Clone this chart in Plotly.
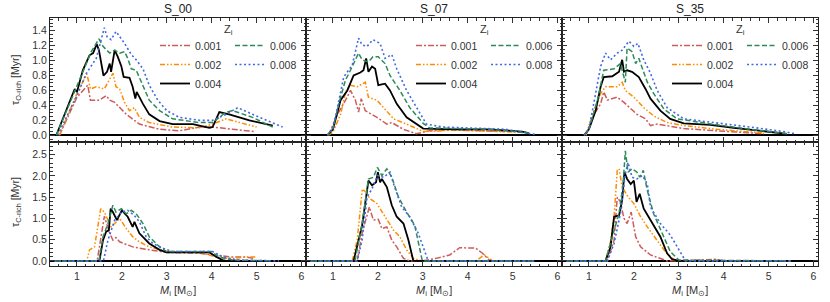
import plotly.graph_objects as go
from plotly.subplots import make_subplots

# ---------------- data ----------------
models = ["S_00", "S_07", "S_35"]
metallicities = ["0.001", "0.002", "0.004", "0.006", "0.008"]

# --- O-rich lifetimes (top row) ---
M_O_S00_001 = [0.61, 0.76, 1.0, 1.24, 1.30, 1.50, 1.65, 1.73, 1.84, 2.10, 2.39, 2.84, 3.28, 3.73, 4.02, 4.47, 4.95]
T_O_S00_001 = [0, 0.19, 0.51, 0.67, 0.47, 0.47, 0.53, 0.47, 0.44, 0.28, 0.15, 0.08, 0.06, 0.11, 0.11, 0.08, 0.05]
M_O_S00_002 = [0.61, 1.0, 1.22, 1.30, 1.43, 1.61, 1.80, 1.87, 1.95, 2.06, 2.17, 2.28, 2.39, 2.61, 3.13, 3.73, 4.02, 4.32, 5.0]
T_O_S00_002 = [0, 0.56, 0.82, 0.62, 0.65, 0.62, 0.83, 0.65, 0.62, 0.44, 0.33, 0.37, 0.24, 0.17, 0.11, 0.10, 0.15, 0.22, 0.11]
M_O_S00_004 = [0.54, 0.76, 0.95, 1.0, 1.13, 1.28, 1.36, 1.44, 1.49, 1.59, 1.67, 1.73, 1.76, 1.84, 1.91, 1.99, 2.04, 2.17, 2.24, 2.30, 2.33, 2.47, 2.61, 2.84, 3.13, 3.58, 3.95, 4.02, 4.17, 4.39, 4.84, 5.36]
T_O_S00_004 = [0, 0.33, 0.62, 0.58, 0.87, 1.07, 1.10, 1.22, 1.14, 0.80, 0.85, 0.96, 0.85, 1.14, 1.05, 0.92, 0.78, 0.77, 0.65, 0.49, 0.58, 0.42, 0.28, 0.19, 0.15, 0.15, 0.10, 0.11, 0.31, 0.28, 0.20, 0.13]
M_O_S00_006 = [0.54, 1.0, 1.21, 1.32, 1.49, 1.58, 1.73, 1.84, 1.95, 2.06, 2.13, 2.21, 2.32, 2.47, 2.61, 2.84, 3.13, 3.73, 4.02, 4.32, 4.47, 4.91, 5.36]
T_O_S00_006 = [0, 0.67, 0.98, 1.12, 1.29, 1.19, 1.10, 1.14, 1.10, 1.12, 1.03, 0.89, 0.87, 0.65, 0.47, 0.33, 0.22, 0.17, 0.17, 0.31, 0.33, 0.24, 0.11]
M_O_S00_008 = [0.57, 1.0, 1.21, 1.43, 1.50, 1.61, 1.67, 1.76, 1.87, 1.95, 2.06, 2.21, 2.32, 2.47, 2.61, 2.8, 3.0, 3.28, 3.73, 4.02, 4.32, 4.58, 4.91, 5.58]
T_O_S00_008 = [0, 0.53, 0.83, 1.03, 1.19, 1.44, 1.32, 1.28, 1.39, 1.32, 1.23, 1.08, 1.01, 0.89, 0.67, 0.47, 0.33, 0.24, 0.20, 0.20, 0.28, 0.37, 0.28, 0.11]

M_O_S07_001 = [0.9, 1.10, 1.28, 1.39, 1.50, 1.57, 1.63, 1.72, 1.98, 2.20, 2.31, 2.57, 2.86, 3.15, 3.74, 4.85]
T_O_S07_001 = [0, 0.28, 0.47, 0.60, 0.47, 0.31, 0.49, 0.33, 0.24, 0.15, 0.17, 0.08, 0.02, 0.06, 0.07, 0.05]
M_O_S07_002 = [0.89, 1.0, 1.17, 1.28, 1.39, 1.54, 1.72, 1.79, 1.98, 2.20, 2.35, 2.64, 3.01, 3.74, 4.48, 5.21]
T_O_S07_002 = [0, 0.04, 0.28, 0.58, 0.67, 0.65, 0.71, 0.51, 0.47, 0.33, 0.22, 0.15, 0.05, 0.07, 0.06, 0.04]
M_O_S07_004 = [0.875, 1.0, 1.17, 1.32, 1.46, 1.61, 1.68, 1.74, 1.79, 1.87, 1.94, 2.01, 2.16, 2.27, 2.42, 2.64, 3.01, 3.74, 4.48, 5.21, 5.36]
T_O_S07_004 = [0, 0.08, 0.47, 0.60, 0.80, 0.84, 0.87, 1.03, 0.85, 0.92, 0.89, 0.67, 0.69, 0.60, 0.42, 0.24, 0.09, 0.08, 0.08, 0.05, 0.03]
M_O_S07_006 = [0.875, 1.0, 1.17, 1.28, 1.39, 1.57, 1.65, 1.79, 1.89, 2.01, 2.16, 2.27, 2.49, 2.71, 3.01, 3.15, 3.74, 4.48, 5.36]
T_O_S07_006 = [0, 0.10, 0.51, 0.74, 0.87, 1.10, 1.01, 0.98, 1.05, 1.05, 0.96, 0.80, 0.60, 0.37, 0.16, 0.10, 0.09, 0.08, 0.03]
M_O_S07_008 = [0.875, 1.0, 1.24, 1.43, 1.57, 1.65, 1.76, 1.89, 2.05, 2.16, 2.31, 2.42, 2.64, 2.86, 3.08, 3.45, 4.11, 4.85, 5.51]
T_O_S07_008 = [0, 0.08, 0.78, 0.94, 1.30, 1.21, 1.19, 1.28, 1.23, 1.03, 1.08, 0.89, 0.60, 0.37, 0.15, 0.11, 0.10, 0.08, 0.01]

M_O_S35_001 = [0.93, 1.11, 1.26, 1.33, 1.41, 1.63, 1.78, 1.93, 2.07, 2.26, 2.37, 2.52, 3.11, 3.85, 4.89]
T_O_S35_001 = [0, 0.28, 0.42, 0.58, 0.47, 0.51, 0.44, 0.35, 0.28, 0.22, 0.13, 0.15, 0.09, 0.06, 0.02]
M_O_S35_002 = [0.93, 1.11, 1.26, 1.37, 1.63, 1.74, 1.81, 2.0, 2.22, 2.44, 2.74, 3.11, 3.85, 4.89]
T_O_S35_002 = [0, 0.33, 0.56, 0.65, 0.65, 0.71, 0.60, 0.51, 0.37, 0.26, 0.17, 0.13, 0.08, 0.03]
M_O_S35_004 = [0.89, 1.0, 1.15, 1.26, 1.33, 1.52, 1.67, 1.74, 1.78, 1.85, 1.96, 2.11, 2.26, 2.37, 2.59, 2.81, 3.11, 3.70, 4.22, 4.96, 5.41]
T_O_S35_004 = [0, 0.08, 0.33, 0.65, 0.78, 0.79, 0.85, 1.01, 0.85, 0.87, 0.85, 0.78, 0.62, 0.49, 0.33, 0.22, 0.16, 0.14, 0.10, 0.05, 0.02]
M_O_S35_006 = [0.89, 1.0, 1.19, 1.33, 1.56, 1.70, 1.81, 1.85, 1.96, 2.04, 2.11, 2.30, 2.44, 2.67, 2.96, 3.26, 3.85, 4.59, 5.41]
T_O_S35_006 = [0, 0.08, 0.47, 0.87, 0.89, 0.96, 0.71, 1.17, 1.12, 0.96, 1.03, 0.71, 0.56, 0.35, 0.22, 0.19, 0.14, 0.08, 0.02]
M_O_S35_008 = [0.89, 1.0, 1.26, 1.37, 1.48, 1.63, 1.74, 1.89, 2.0, 2.09, 2.22, 2.37, 2.52, 2.74, 3.11, 3.85, 4.59, 5.33, 5.59]
T_O_S35_008 = [0, 0.08, 0.92, 1.10, 1.01, 1.10, 1.14, 1.26, 1.19, 1.23, 1.01, 0.83, 0.60, 0.37, 0.22, 0.17, 0.11, 0.05, 0.02]

# --- C-rich lifetimes (bottom row) ---
M_C_S00_001 = [0.5, 1.45, 1.61, 1.73, 1.80, 1.87, 1.95, 2.24, 2.61, 3.0, 3.73, 4.02, 4.32, 4.47, 4.76, 4.95]
T_C_S00_001 = [0, 0, 1.05, 0.65, 0.49, 0.55, 0.45, 0.33, 0.26, 0.20, 0.18, 0.14, 0.10, 0.09, 0.09, 0.06]
M_C_S00_002 = [0.5, 1.22, 1.28, 1.39, 1.47, 1.53, 1.61, 1.76, 1.84, 1.95, 2.10, 2.24, 2.39, 2.61, 3.0, 3.73, 3.95, 4.17, 4.47, 4.76, 4.99]
T_C_S00_002 = [0, 0, 0.26, 0.33, 0.84, 1.23, 1.15, 0.80, 0.88, 1.0, 0.76, 0.57, 0.45, 0.33, 0.22, 0.19, 0.14, 0.06, 0.06, 0.09, 0.09]
M_C_S00_004 = [0.5, 1.50, 1.58, 1.65, 1.71, 1.75, 1.80, 1.89, 2.0, 2.13, 2.24, 2.28, 2.39, 2.61, 2.84, 3.0, 3.43, 3.95, 4.10, 4.24, 4.32, 5.4]
T_C_S00_004 = [0, 0, 0.49, 0.69, 0.72, 1.23, 1.15, 0.96, 1.19, 1.04, 0.80, 0.92, 0.65, 0.41, 0.26, 0.20, 0.20, 0.20, 0.10, 0.02, 0, 0]
M_C_S00_006 = [0.5, 1.49, 1.58, 1.69, 1.80, 1.87, 1.99, 2.10, 2.21, 2.32, 2.47, 2.61, 2.84, 3.0, 3.73, 3.99, 4.17, 4.47, 5.36]
T_C_S00_006 = [0, 0, 0.57, 0.88, 1.31, 1.15, 1.23, 1.11, 1.19, 1.11, 0.88, 0.57, 0.33, 0.22, 0.22, 0.22, 0.09, 0.02, 0]
M_C_S00_008 = [0.5, 1.59, 1.69, 1.84, 1.99, 2.13, 2.28, 2.39, 2.54, 2.69, 2.91, 3.13, 4.02, 4.24, 4.54, 5.5]
T_C_S00_008 = [0, 0, 0.49, 0.96, 1.15, 1.19, 1.07, 0.92, 0.57, 0.41, 0.30, 0.22, 0.22, 0.10, 0.02, 0]

M_C_S07_001 = [0.5, 1.54, 1.65, 1.81, 1.90, 2.01, 2.09, 2.20, 2.31, 2.42, 2.57, 2.71, 3.0, 3.30, 3.60, 3.82, 4.18, 4.33, 4.48, 4.55, 5.5]
T_C_S07_001 = [0, 0, 0.65, 1.27, 0.96, 0.98, 0.76, 0.80, 0.49, 0.33, 0.06, 0, 0, 0.06, 0.14, 0.31, 0.30, 0.18, 0.02, 0, 0]
M_C_S07_002 = [0.5, 1.43, 1.54, 1.65, 1.70, 1.83, 1.98, 2.20, 2.35, 2.49, 2.64, 2.79, 2.97, 4.18, 4.37, 4.48, 4.55, 5.5]
T_C_S07_002 = [0, 0, 0.49, 1.66, 1.66, 1.46, 1.35, 0.96, 0.72, 0.57, 0.26, 0.06, 0, 0, 0.14, 0.06, 0, 0]
M_C_S07_004 = [0.5, 1.46, 1.65, 1.79, 1.87, 1.96, 2.0, 2.05, 2.09, 2.20, 2.31, 2.42, 2.57, 2.68, 2.79, 5.5]
T_C_S07_004 = [0, 0, 0.84, 1.89, 1.78, 1.85, 2.09, 1.85, 1.93, 1.74, 1.31, 1.04, 0.88, 0.49, 0, 0]
M_C_S07_006 = [0.5, 1.49, 1.65, 1.79, 1.90, 1.99, 2.09, 2.20, 2.31, 2.46, 2.64, 2.82, 2.99, 5.5]
T_C_S07_006 = [0, 0, 0.88, 1.93, 1.97, 2.20, 2.01, 2.17, 1.97, 1.50, 1.15, 0.84, 0, 0]
M_C_S07_008 = [0.5, 1.54, 1.65, 1.76, 1.87, 1.99, 2.13, 2.27, 2.35, 2.53, 2.71, 2.90, 3.12, 5.5]
T_C_S07_008 = [0, 0, 0.49, 1.50, 1.70, 2.01, 1.97, 2.09, 1.81, 1.27, 1.04, 0.65, 0, 0]

M_C_S35_001 = [0.5, 1.41, 1.56, 1.63, 1.70, 1.78, 1.85, 1.94, 2.04, 2.15, 2.37, 2.59, 2.74, 3.41, 3.85, 4.0, 5.5]
T_C_S35_001 = [0, 0, 0.49, 1.50, 1.39, 1.0, 0.88, 1.15, 0.57, 0.33, 0.14, 0.05, 0, 0.02, 0.04, 0, 0]
M_C_S35_002 = [0.5, 1.37, 1.48, 1.56, 1.63, 1.67, 1.74, 1.85, 2.0, 2.15, 2.30, 2.52, 2.67, 2.89, 3.0, 5.5]
T_C_S35_002 = [0, 0, 0.45, 1.04, 2.13, 2.17, 1.74, 1.54, 1.35, 1.04, 0.80, 0.49, 0.26, 0.02, 0, 0]
M_C_S35_004 = [0.5, 1.37, 1.48, 1.56, 1.67, 1.74, 1.79, 1.85, 1.93, 2.0, 2.06, 2.13, 2.22, 2.37, 2.59, 2.74, 2.85, 3.0, 5.5]
T_C_S35_004 = [0, 0, 0.33, 1.04, 1.07, 1.43, 2.09, 1.93, 1.81, 1.89, 1.39, 1.58, 1.23, 0.96, 0.57, 0.18, 0.04, 0, 0]
M_C_S35_006 = [0.5, 1.37, 1.52, 1.67, 1.76, 1.81, 1.87, 1.96, 2.07, 2.13, 2.21, 2.30, 2.44, 2.63, 2.81, 3.0, 5.5]
T_C_S35_006 = [0, 0, 0.57, 1.11, 1.81, 2.59, 2.09, 2.17, 2.09, 1.97, 2.13, 1.66, 1.11, 0.65, 0.22, 0.02, 0]
M_C_S35_008 = [0.5, 1.41, 1.56, 1.70, 1.81, 1.87, 1.96, 2.07, 2.19, 2.30, 2.37, 2.59, 2.81, 3.0, 3.15, 5.5]
T_C_S35_008 = [0, 0, 0.41, 1.11, 2.05, 2.32, 1.97, 1.93, 2.01, 1.81, 1.27, 0.88, 0.61, 0.26, 0, 0]

# tick labels
x_tick_vals = [1, 2, 3, 4, 5, 6]
y_top_ticks = [0.0, 0.2, 0.4, 0.6, 0.8, 1.0, 1.2, 1.4]
y_bot_ticks = [0.0, 0.5, 1.0, 1.5, 2.0, 2.5]

# ---------------- styles ----------------
colors = {"0.001": "#CD5C5C", "0.002": "#FF8C00", "0.004": "#000000",
          "0.006": "#2E8B57", "0.008": "#4169E1"}
dashes = {"0.001": "6px,2px,2px,2px", "0.002": "5px,2px,1.5px,2px,1.5px,2px",
          "0.004": "solid", "0.006": "5px,2.5px", "0.008": "2px,2.5px"}
widths = {"0.001": 1.5, "0.002": 1.5, "0.004": 1.8, "0.006": 1.5, "0.008": 1.6}

data = {}
g = globals()
for kind in ["O", "C"]:
    for m in models:
        for z in metallicities:
            key = f"{kind}_{m.replace('_', '')}_{z[-3:]}"
            data[(kind, m, z)] = (g["M_" + key], g["T_" + key])

FONT = "Liberation Sans, Arial, sans-serif"

fig = make_subplots(rows=2, cols=3, horizontal_spacing=0, vertical_spacing=0)

for ci, m in enumerate(models):
    for ri, kind in enumerate(["O", "C"]):
        for z in metallicities:
            xs, ys = data[(kind, m, z)]
            col2 = z in ("0.006", "0.008")
            leg_idx = 2 * ci + (2 if col2 else 1)
            leg_name = "legend" if leg_idx == 1 else f"legend{leg_idx}"
            fig.add_trace(go.Scatter(
                x=xs, y=ys, mode="lines", name=z,
                line=dict(color=colors[z], width=widths[z], dash=dashes[z]),
                showlegend=(kind == "O"), legend=leg_name,
                hoverinfo="skip"),
                row=ri + 1, col=ci + 1)

axis_common = dict(showline=True, linecolor="#222", linewidth=1, mirror="allticks",
                   ticks="inside", ticklen=5, tickwidth=1, tickcolor="#333",
                   showgrid=False,
                   tickfont=dict(family=FONT, size=10.5, color="#333"))

for ri in range(2):
    for ci in range(3):
        fig.update_xaxes(range=[0.4, 6.1], tickvals=x_tick_vals, zeroline=False,
                         minor=dict(ticks="inside", ticklen=2.5, dtick=0.2, tick0=0,
                                    tickcolor="#333", showgrid=False),
                         showticklabels=(ri == 1), **axis_common,
                         row=ri + 1, col=ci + 1)
        if ri == 0:
            fig.update_yaxes(range=[-0.09, 1.57], tickvals=y_top_ticks, tickformat=".1f",
                             minor=dict(ticks="inside", ticklen=2.5, dtick=0.05, tick0=0,
                                        tickcolor="#333", showgrid=False),
                             zeroline=True, zerolinecolor="#000", zerolinewidth=1.6,
                             showticklabels=(ci == 0), **axis_common,
                             row=1, col=ci + 1)
        else:
            fig.update_yaxes(range=[-0.12, 2.8], tickvals=y_bot_ticks, tickformat=".1f",
                             minor=dict(ticks="inside", ticklen=2.5, dtick=0.1, tick0=0,
                                        tickcolor="#333", showgrid=False),
                             zeroline=True, zerolinecolor="#000", zerolinewidth=1.6,
                             showticklabels=(ci == 0), **axis_common,
                             row=2, col=ci + 1)

# plot-area geometry in page pixels (page body margin removed below)
L, W, T, H = 50, 768, 18, 248
def px2x(px):
    return (px - L) / W
def py2y(py):
    return (T + H - py) / H

legend_layout = {}
for ci in range(3):
    dx = 256 * ci
    for k, xpx in ((1, 155), (2, 230)):
        idx = 2 * ci + k
        name = "legend" if idx == 1 else f"legend{idx}"
        legend_layout[name] = dict(
            x=px2x(xpx + dx), y=py2y(31), xanchor="left", yanchor="top",
            orientation="v", bgcolor="rgba(0,0,0,0)", borderwidth=0,
            font=dict(family=FONT, size=10.5, color="#333"),
            itemclick=False, itemdoubleclick=False)
fig.update_layout(**legend_layout)

annotations = []
for ci, m in enumerate(models):
    cx = (ci + 0.5) / 3
    annotations.append(dict(text=m, x=cx, y=py2y(9), xref="paper", yref="paper",
                            xanchor="center", yanchor="middle", showarrow=False,
                            font=dict(family=FONT, size=12, color="#222")))
    annotations.append(dict(text="Z<sub>i</sub>", x=px2x(228 + 256 * ci), y=py2y(30),
                            xref="paper", yref="paper", xanchor="center", yanchor="middle",
                            showarrow=False, font=dict(family=FONT, size=11, color="#333")))
    annotations.append(dict(text="<i>M</i><sub>i</sub> [M<sub>⊙</sub>]", x=cx, y=py2y(291),
                            xref="paper", yref="paper", xanchor="center", yanchor="middle",
                            showarrow=False, font=dict(family=FONT, size=11, color="#333")))
annotations.append(dict(text="τ<sub>O-rich</sub> [Myr]", x=px2x(16), y=py2y(80),
                        xref="paper", yref="paper", xanchor="center", yanchor="middle",
                        textangle=-90, showarrow=False,
                        font=dict(family=FONT, size=10.5, color="#333")))
annotations.append(dict(text="τ<sub>C-rich</sub> [Myr]", x=px2x(16), y=py2y(202),
                        xref="paper", yref="paper", xanchor="center", yanchor="middle",
                        textangle=-90, showarrow=False,
                        font=dict(family=FONT, size=10.5, color="#333")))

fig.update_layout(width=830, height=302,
                  margin=dict(l=L, r=830 - L - W, t=T, b=302 - T - H),
                  paper_bgcolor="white", plot_bgcolor="white",
                  annotations=annotations, font=dict(family=FONT))

fig.write_html("out.html", config={"displayModeBar": False},
               post_script="document.body.style.margin='0';document.body.style.overflow='hidden';")
